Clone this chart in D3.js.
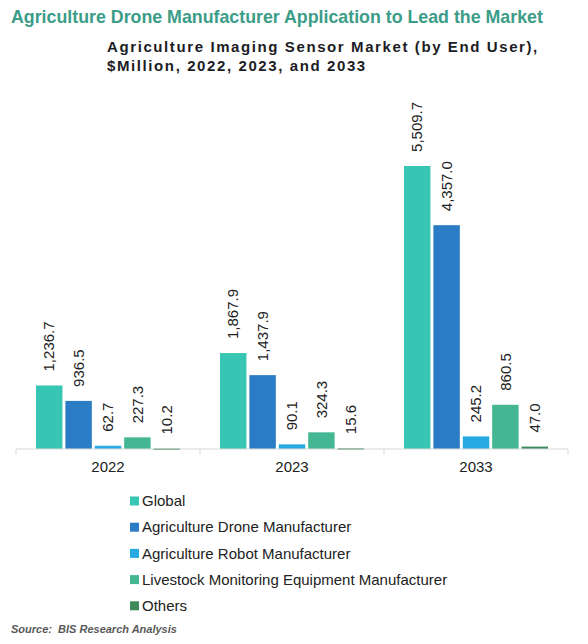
<!DOCTYPE html>
<html><head><meta charset="utf-8">
<script src="https://cdn.jsdelivr.net/npm/d3@7"></script>
<style>body{margin:0;background:#fff}svg{display:block}text{font-family:"Liberation Sans",Arial,sans-serif}</style>
</head><body>
<script>
const years = ["2022", "2023", "2033"];
const seriesNames = ["Global", "Agriculture Drone Manufacturer", "Agriculture Robot Manufacturer", "Livestock Monitoring Equipment Manufacturer", "Others"];
const global = [1236.7, 1867.9, 5509.7];
const drone = [936.5, 1437.9, 4357.0];
const robot = [62.7, 90.1, 245.2];
const livestock = [227.3, 324.3, 860.5];
const others = [10.2, 15.6, 47.0];
const colors = ["#37c6b3", "#2a7dc4", "#27a9e1", "#44b792", "#3e8a5c"];
const title = "Agriculture Drone Manufacturer Application to Lead the Market";
const subtitle = ["Agriculture Imaging Sensor Market (by End User),", "$Million, 2022, 2023, and 2033"];
const source = "Source:  BIS Research Analysis";

const values = [global, drone, robot, livestock, others];
const W = 588, H = 644;
const svg = d3.select("body").append("svg").attr("width", W).attr("height", H);

svg.append("text").attr("x", 11).attr("y", 23).attr("font-size", 17.8).attr("font-weight", "bold")
  .attr("fill", "#3b9c88").text(title);
subtitle.forEach((s, i) => svg.append("text").attr("x", 107).attr("y", 52 + i * 19)
  .attr("font-size", 15).attr("font-weight", "bold").attr("letter-spacing", 1.6)
  .attr("fill", "#1c1c24").text(s));

const baseY = 449;
const x0 = d3.scaleBand().domain(years).range([16, 568]);
const x1 = d3.scaleBand().domain(seriesNames).range([0, x0.bandwidth()]).paddingInner(0.1).paddingOuter(0.68);
const y = d3.scaleLinear().domain([0, 6000]).range([baseY, baseY - 6000 * 0.05137]);

const g = svg.append("g");
years.forEach((yr, yi) => {
  const grp = g.append("g").attr("transform", `translate(${x0(yr)},0)`);
  seriesNames.forEach((s, si) => {
    const v = values[si][yi];
    grp.append("rect").attr("x", x1(s)).attr("y", y(v)).attr("width", x1.bandwidth())
      .attr("height", Math.max(baseY - y(v), 1.5)).attr("fill", colors[si]);
    const cx = x1(s) + x1.bandwidth() / 2;
    grp.append("text").attr("transform", `translate(${cx},${y(v) - 14}) rotate(-90)`)
      .attr("dy", "0.35em").attr("font-size", 15).attr("fill", "#222")
      .text(d3.format(",.1f")(v));
  });
});

const axis = svg.append("g").attr("transform", `translate(0,${baseY})`);
axis.append("line").attr("x1", 16).attr("x2", 568).attr("stroke", "#d9d9d9").attr("stroke-width", 1.2);
[16, ...years.map(yr => x0(yr) + x0.bandwidth())].forEach(xx =>
  axis.append("line").attr("x1", xx).attr("x2", xx).attr("y1", 0).attr("y2", 6).attr("stroke", "#d9d9d9"));
years.forEach(yr => axis.append("text").attr("x", x0(yr) + x0.bandwidth() / 2).attr("y", 23)
  .attr("text-anchor", "middle").attr("font-size", 15).attr("fill", "#222").text(yr));

seriesNames.forEach((s, i) => {
  const ly = 501 + i * 26.2;
  svg.append("rect").attr("x", 130).attr("y", ly - 4.5).attr("width", 9).attr("height", 9).attr("fill", colors[i]);
  svg.append("text").attr("x", 142).attr("y", ly).attr("dy", "0.35em").attr("font-size", 15)
    .attr("fill", "#222").text(s);
});

svg.append("text").attr("x", 11).attr("y", 633).attr("font-size", 11).attr("font-weight", "bold")
  .attr("font-style", "italic").attr("fill", "#595959").style("white-space", "pre").text(source);
</script>
</body></html>
